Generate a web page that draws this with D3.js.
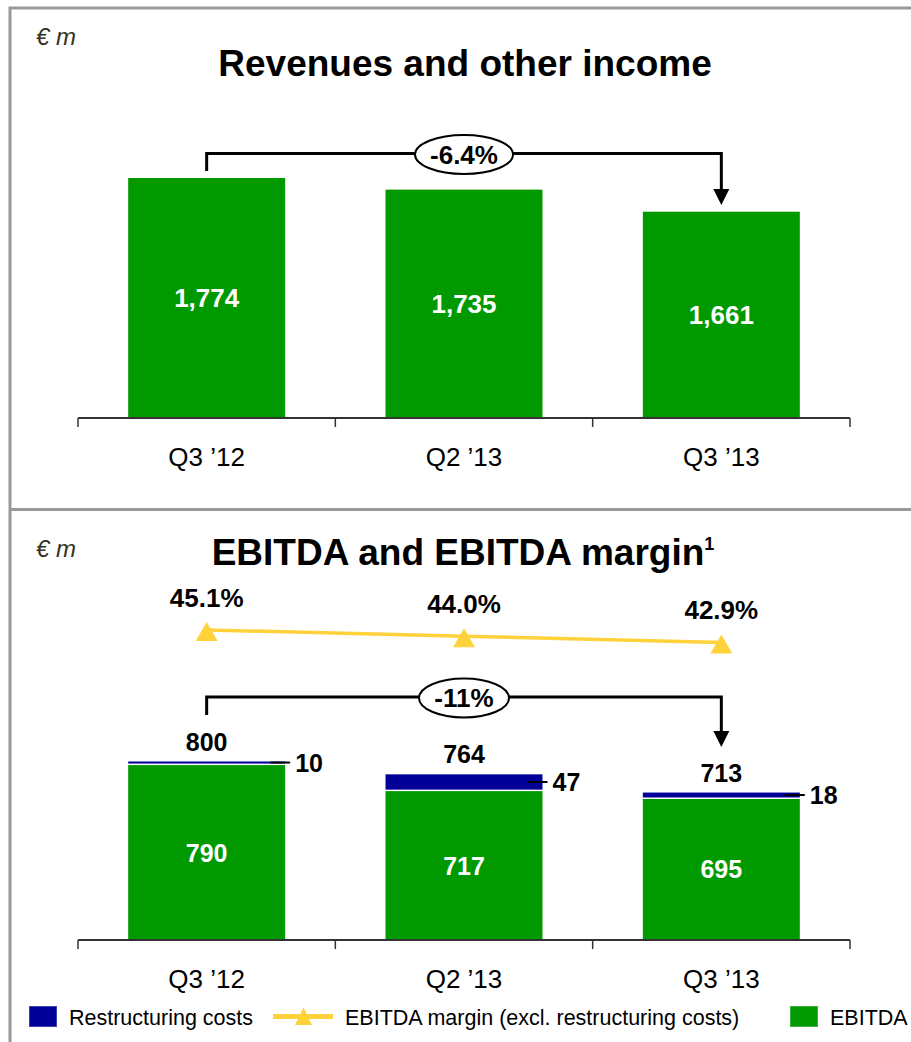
<!DOCTYPE html>
<html>
<head>
<meta charset="utf-8">
<script src="https://cdn.jsdelivr.net/npm/d3@7"></script>
<style>
  body { margin: 0; background: #fff; }
  text { font-family: "Liberation Sans", Arial, sans-serif; }
</style>
</head>
<body>
<div id="figure"></div>
<script>
// Data.
const quarters = ["Q3 ’12", "Q2 ’13", "Q3 ’13"];
const revenues = [1774, 1735, 1661];
const revenueChange = "-6.4%";
const ebitda = [790, 717, 695];
const restructuring = [10, 47, 18];
const ebitdaTotal = [800, 764, 713];
const ebitdaMargin = [45.1, 44.0, 42.9];
const ebitdaChange = "-11%";

const width = 911,
      height = 1042;

const green = "#009900",
      blue = "#000099",
      yellow = "#FFD23C";

const svg = d3.select("#figure").append("svg")
    .attr("width", width)
    .attr("height", height);

// Panel frame and divider.
svg.append("path")
    .attr("d", `M10,${height} V8 H${width}`)
    .attr("fill", "none")
    .attr("stroke", "#999")
    .attr("stroke-width", 3);

svg.append("line")
    .attr("x1", 10).attr("x2", width)
    .attr("y1", 509.5).attr("y2", 509.5)
    .attr("stroke", "#999")
    .attr("stroke-width", 3);

// Shared band scale for both panels.
const x = d3.scaleBand()
    .domain(quarters)
    .range([78, 850])
    .paddingInner(0.39)
    .paddingOuter(0.195);

const cx = q => x(q) + x.bandwidth() / 2;

function drawAxis(y0) {
    const g = svg.append("g");
    const edges = quarters.map(q => x(q) - x.step() * 0.195);
    edges.push(edges[edges.length - 1] + x.step());
    g.append("line")
        .attr("x1", edges[0]).attr("x2", edges[edges.length - 1])
        .attr("y1", y0).attr("y2", y0)
        .attr("stroke", "#333")
        .attr("stroke-width", 2);
    g.selectAll(".tick")
        .data(edges)
        .join("line")
        .attr("x1", d => d).attr("x2", d => d)
        .attr("y1", y0).attr("y2", y0 + 9)
        .attr("stroke", "#333")
        .attr("stroke-width", 1.5);
    g.selectAll(".lab")
        .data(quarters)
        .join("text")
        .attr("x", d => cx(d))
        .attr("y", y0 + 48)
        .attr("text-anchor", "middle")
        .attr("font-size", 26)
        .attr("fill", "#000")
        .text(d => d);
}

function drawBracket(x1, x2, yLine, yLeftEnd, yTip, label, rx) {
    const g = svg.append("g");
    g.append("path")
        .attr("d", `M${x1},${yLeftEnd} V${yLine} H${x2} V${yTip - 15}`)
        .attr("fill", "none")
        .attr("stroke", "#000")
        .attr("stroke-width", 3);
    g.append("path")
        .attr("d", `M${x2 - 8},${yTip - 16} L${x2 + 8},${yTip - 16} L${x2},${yTip} Z`)
        .attr("fill", "#000");
    const mx = (x1 + x2) / 2;
    g.append("ellipse")
        .attr("cx", mx).attr("cy", yLine + 1)
        .attr("rx", rx).attr("ry", 19.5)
        .attr("fill", "#fff")
        .attr("stroke", "#000")
        .attr("stroke-width", 2);
    g.append("text")
        .attr("x", mx).attr("y", yLine + 10)
        .attr("text-anchor", "middle")
        .attr("font-size", 26)
        .attr("font-weight", "bold")
        .text(label);
}

function unitLabel(y) {
    svg.append("text")
        .attr("x", 36).attr("y", y)
        .attr("font-size", 24)
        .attr("font-style", "italic")
        .attr("fill", "#333322")
        .text("€ m");
}

// ---------- Top panel: revenues ----------
unitLabel(45);
svg.append("text")
    .attr("x", 465).attr("y", 76)
    .attr("text-anchor", "middle")
    .attr("font-size", 37)
    .attr("font-weight", "bold")
    .text("Revenues and other income");

const revBase = 418;
const yRev = d3.scaleLinear().domain([970, 1774]).range([revBase, 178]);
const revData = quarters.map((q, i) => ({q, v: revenues[i]}));

svg.append("g").selectAll("rect")
    .data(revData)
    .join("rect")
    .attr("x", d => x(d.q))
    .attr("y", d => yRev(d.v))
    .attr("width", x.bandwidth())
    .attr("height", d => revBase - yRev(d.v))
    .attr("fill", green);

svg.append("g").selectAll("text")
    .data(revData)
    .join("text")
    .attr("x", d => cx(d.q))
    .attr("y", d => (yRev(d.v) + revBase) / 2 + 9)
    .attr("text-anchor", "middle")
    .attr("font-size", 26)
    .attr("font-weight", "bold")
    .attr("fill", "#fff")
    .text(d => d3.format(",")(d.v));

drawAxis(revBase);
drawBracket(cx(quarters[0]), cx(quarters[2]), 153.5, 171, 205, revenueChange, 49);

// ---------- Bottom panel: EBITDA ----------
unitLabel(557);
const title2 = svg.append("text")
    .attr("x", 463).attr("y", 565)
    .attr("text-anchor", "middle")
    .attr("font-size", 37)
    .attr("font-weight", "bold");
title2.append("tspan").text("EBITDA and EBITDA margin");
title2.append("tspan")
    .attr("font-size", 18)
    .attr("dy", -15)
    .text("1");

const ebBase = 940;
const yEb = d3.scaleLinear().domain([300, 800]).range([ebBase, 761.5]);
const ebData = quarters.map((q, i) => ({
    q, e: ebitda[i], r: restructuring[i], t: ebitdaTotal[i], m: ebitdaMargin[i]
}));

const bars = svg.append("g");
bars.selectAll(".eb")
    .data(ebData)
    .join("rect")
    .attr("x", d => x(d.q))
    .attr("y", d => yEb(d.e))
    .attr("width", x.bandwidth())
    .attr("height", d => ebBase - yEb(d.e))
    .attr("fill", green);

bars.selectAll(".rs")
    .data(ebData)
    .join("rect")
    .attr("x", d => x(d.q))
    .attr("y", d => yEb(d.t))
    .attr("width", x.bandwidth())
    .attr("height", d => Math.max(yEb(d.e) - yEb(d.t) - 1.5, 1.8))
    .attr("fill", blue);

// EBITDA value inside bar
bars.selectAll(".ebl")
    .data(ebData)
    .join("text")
    .attr("x", d => cx(d.q))
    .attr("y", d => (yEb(d.e) + ebBase) / 2 + 9)
    .attr("text-anchor", "middle")
    .attr("font-size", 25)
    .attr("font-weight", "bold")
    .attr("fill", "#fff")
    .text(d => d.e);

// Totals above bars
bars.selectAll(".tl")
    .data(ebData)
    .join("text")
    .attr("x", d => cx(d.q))
    .attr("y", d => yEb(d.t) - 11)
    .attr("text-anchor", "middle")
    .attr("font-size", 25)
    .attr("font-weight", "bold")
    .text(d => d.t);

// Restructuring leader lines and values
const rMid = d => (yEb(d.t) + yEb(d.e) - 1.5) / 2;
bars.selectAll(".ll")
    .data(ebData)
    .join("line")
    .attr("x1", d => x(d.q) + x.bandwidth() - 15)
    .attr("x2", d => x(d.q) + x.bandwidth() + 5)
    .attr("y1", rMid).attr("y2", rMid)
    .attr("stroke", "#000")
    .attr("stroke-width", 2);

bars.selectAll(".rl")
    .data(ebData)
    .join("text")
    .attr("x", d => x(d.q) + x.bandwidth() + 10)
    .attr("y", d => rMid(d) + 9)
    .attr("font-size", 25)
    .attr("font-weight", "bold")
    .text(d => d.r);

drawAxis(ebBase);
drawBracket(cx(quarters[0]), cx(quarters[2]), 697, 715, 747, ebitdaChange, 45);

// EBITDA margin line
const yM = d3.scaleLinear().domain([40, 50]).range([659, 602]);
const tri = (w, up, down) => `M0,${-up} L${w / 2},${down} L${-w / 2},${down} Z`;

svg.append("path")
    .datum(ebData)
    .attr("fill", "none")
    .attr("stroke", yellow)
    .attr("stroke-width", 3.5)
    .attr("d", d3.line().x(d => cx(d.q)).y(d => yM(d.m)));

svg.append("g").selectAll("path")
    .data(ebData)
    .join("path")
    .attr("transform", d => `translate(${cx(d.q)},${yM(d.m)})`)
    .attr("d", tri(22, 8, 11))
    .attr("fill", yellow);

svg.append("g").selectAll("text")
    .data(ebData)
    .join("text")
    .attr("x", d => cx(d.q))
    .attr("y", d => yM(d.m) - 23)
    .attr("text-anchor", "middle")
    .attr("font-size", 26)
    .attr("font-weight", "bold")
    .text(d => d3.format(".1f")(d.m) + "%");

// Legend
const legend = svg.append("g").attr("font-size", 21.5);
legend.append("rect")
    .attr("x", 29.5).attr("y", 1006.5)
    .attr("width", 27).attr("height", 20)
    .attr("fill", blue).attr("stroke", "#4040b0").attr("stroke-width", 1);
legend.append("text").attr("x", 69).attr("y", 1025).text("Restructuring costs");

legend.append("line")
    .attr("x1", 273).attr("x2", 333)
    .attr("y1", 1016.5).attr("y2", 1016.5)
    .attr("stroke", yellow).attr("stroke-width", 5);
legend.append("path")
    .attr("transform", "translate(303.5,1016.5)")
    .attr("d", tri(17, 9, 8.5))
    .attr("fill", yellow);
legend.append("text").attr("x", 345).attr("y", 1025)
    .text("EBITDA margin (excl. restructuring costs)");

legend.append("rect")
    .attr("x", 790.5).attr("y", 1006.5)
    .attr("width", 27).attr("height", 20)
    .attr("fill", green).attr("stroke", "#40b040").attr("stroke-width", 1);
legend.append("text").attr("x", 830).attr("y", 1025).text("EBITDA");
</script>
</body>
</html>
